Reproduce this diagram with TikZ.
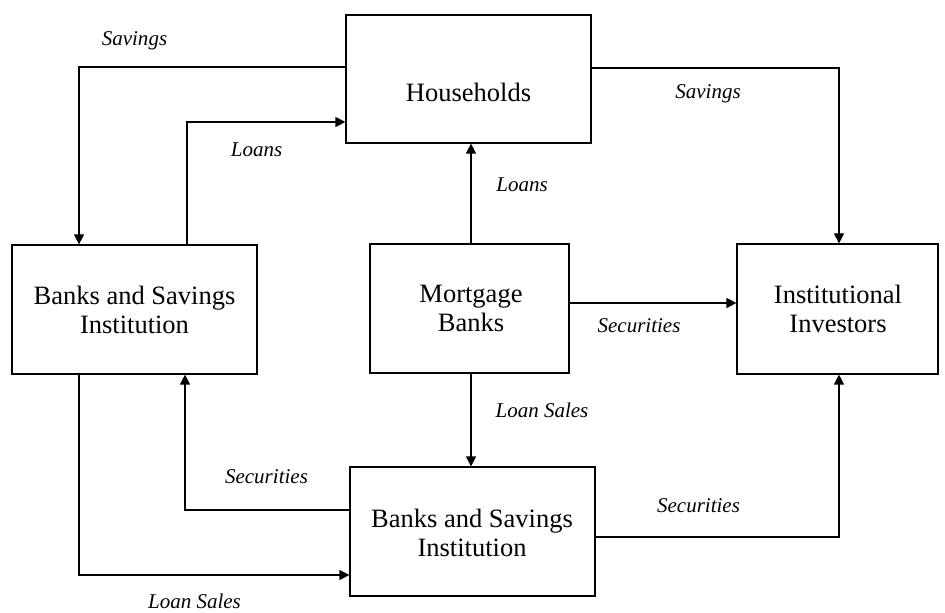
\documentclass[tikz,border=0pt]{standalone}
\usepackage{fontspec}
\setmainfont{Liberation Serif}
\usetikzlibrary{arrows.meta}

\tikzset{
  box/.style={draw, line width=0.6pt, rectangle, inner sep=0pt},
  boxtext/.style={font=\fontsize{13.25pt}{14.5pt}\selectfont, anchor=base, inner sep=0pt},
  flowlabel/.style={font=\fontsize{10.5pt}{12pt}\selectfont\itshape, anchor=base, inner sep=0pt},
  flow/.style={line width=0.6pt, -{Triangle[length=5pt,width=5pt]}},
}

\begin{document}
\begin{tikzpicture}[x=0.5pt, y=-0.5pt]
  \useasboundingbox (0,0) rectangle (945,613);

  % boxes
  \node[box, minimum width=122.5pt, minimum height=64pt]   (hh)  at (468.5,79)  {};
  \node[box, minimum width=122.5pt, minimum height=64.5pt] (bsl) at (134.5,309.5) {};
  \node[box, minimum width=99.5pt,  minimum height=64.5pt] (mb)  at (469.5,308.5) {};
  \node[box, minimum width=100.5pt, minimum height=65pt]   (ii)  at (837.5,309) {};
  \node[box, minimum width=122.5pt, minimum height=64.5pt] (bsb) at (472.5,531.5) {};

  % box texts, one node per line
  \node[boxtext] (hhT)   at (468.5,102) {Households};
  \node[boxtext] (bslT1) at (134.5,305) {Banks and Savings};
  \node[boxtext] (bslT2) at (134.5,334) {Institution};
  \node[boxtext] (mbT1)  at (471,303)   {Mortgage};
  \node[boxtext] (mbT2)  at (471,332)   {Banks};
  \node[boxtext] (iiT1)  at (838,304)   {Institutional};
  \node[boxtext] (iiT2)  at (838,333)   {Investors};
  \node[boxtext] (bsbT1) at (472,527)   {Banks and Savings};
  \node[boxtext] (bsbT2) at (472,556)   {Institution};

  % flows
  \draw[flow] (hh.west |- 0,67) -| (bsl.north -| 79,0);
  \draw[flow] (bsl.north -| 187,0) |- (hh.west |- 0,122);
  \draw[flow] (hh.east |- 0,68) -| (ii.north -| 839,0);
  \draw[flow] (mb.north -| 471,0) -- (hh.south -| 471,0);
  \draw[flow] (mb.east |- 0,303) -- (ii.west |- 0,303);
  \draw[flow] (mb.south -| 471,0) -- (bsb.north -| 471,0);
  \draw[flow] (bsb.west |- 0,510) -| (bsl.south -| 185,0);
  \draw[flow] (bsl.south -| 79,0) |- (bsb.west |- 0,575);
  \draw[flow] (bsb.east |- 0,537) -| (ii.south -| 839,0);

  % flow labels
  \node[flowlabel] (l1) at (134.5,46)  {Savings};
  \node[flowlabel] (l2) at (256.5,157) {Loans};
  \node[flowlabel] (l3) at (708,99)    {Savings};
  \node[flowlabel] (l4) at (522,192)   {Loans};
  \node[flowlabel] (l5) at (639,333)   {Securities};
  \node[flowlabel] (l6) at (542,418)   {Loan Sales};
  \node[flowlabel] (l7) at (266.5,483) {Securities};
  \node[flowlabel] (l8) at (698.5,512) {Securities};
  \node[flowlabel] (l9) at (194.5,608) {Loan Sales};
\end{tikzpicture}
\end{document}
